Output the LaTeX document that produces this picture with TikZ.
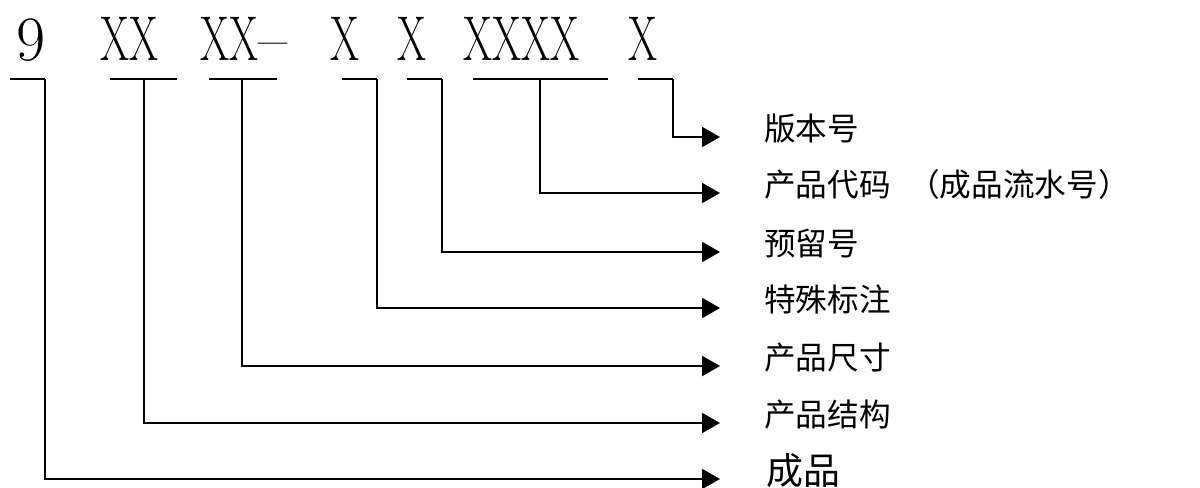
\documentclass[tikz,border=0pt]{standalone}
\usepackage{fontspec}
\usepackage{graphicx}
\usetikzlibrary{arrows.meta,positioning}
\newfontfamily\cjk{Noto Sans CJK SC}
\newcommand{\narrowx}[1]{\scalebox{0.66}[1]{#1}}

\begin{document}
\begin{tikzpicture}[
  x=0.02cm, y=-0.02cm,
  digit/.style={anchor=base west, inner sep=0pt, font=\fontsize{36}{40}\selectfont},
  meaning/.style={anchor=base west, inner sep=0pt, font=\cjk\fontsize{18}{22}\selectfont},
  bar/.style={line width=1.3pt},
  link/.style={line width=1.3pt, -{Triangle[length=0.36cm, width=0.4cm]}}
]
  \useasboundingbox (0,0) rectangle (1200,487);

  % code groups on the top line
  \node[digit] (nine) at (16,60) {9};
  \node[digit] (struct) at (100,60) {\narrowx{XX}};
  \node[digit] (dim) at (200,60) {\narrowx{XX}--};
  \node[digit] (special) at (330,60) {\narrowx{X}};
  \node[digit] (reserve) at (397,60) {\narrowx{X}};
  \node[digit] (serial) at (463,60) {\narrowx{XXXX}};
  \node[digit] (version) at (628,60) {\narrowx{X}};

  % underlines
  \draw[bar] (10,79) -- (45,79);
  \draw[bar] (110,79) -- (177,79);
  \draw[bar] (209,79) -- (277,79);
  \draw[bar] (342,79) -- (377,79);
  \draw[bar] (407,79) -- (442,79);
  \draw[bar] (473,79) -- (608,79);
  \draw[bar] (638,79) -- (673,79);

  \coordinate (dNine) at (45,79);
  \coordinate (dStruct) at (144,79);
  \coordinate (dDim) at (242,79);
  \coordinate (dSpecial) at (377,79);
  \coordinate (dReserve) at (442,79);
  \coordinate (dSerial) at (540,79);
  \coordinate (dVersion) at (673,79);

  % meanings
  \node[meaning] (lVersion) at (764,140) {版本号};
  \node[meaning] (lSerial) at (764,196) {产品代码\hspace{0.35cm}（成品流水号）};
  \node[meaning] (lReserve) at (764,255) {预留号};
  \node[meaning] (lSpecial) at (764,311) {特殊标注};
  \node[meaning] (lDim) at (764,369) {产品尺寸};
  \node[meaning] (lStruct) at (764,426) {产品结构};
  \node[meaning, font=\cjk\fontsize{21}{25}\selectfont] (lNine) at (766,484) {成品};

  \coordinate (tVersion) at (720,137);
  \coordinate (tSerial) at (720,193);
  \coordinate (tReserve) at (720,252);
  \coordinate (tSpecial) at (720,308);
  \coordinate (tDim) at (720,366);
  \coordinate (tStruct) at (720,423);
  \coordinate (tNine) at (720,479);

  \draw[link] (dVersion) |- (tVersion);
  \draw[link] (dSerial) |- (tSerial);
  \draw[link] (dReserve) |- (tReserve);
  \draw[link] (dSpecial) |- (tSpecial);
  \draw[link] (dDim) |- (tDim);
  \draw[link] (dStruct) |- (tStruct);
  \draw[link] (dNine) |- (tNine);
\end{tikzpicture}
\end{document}
